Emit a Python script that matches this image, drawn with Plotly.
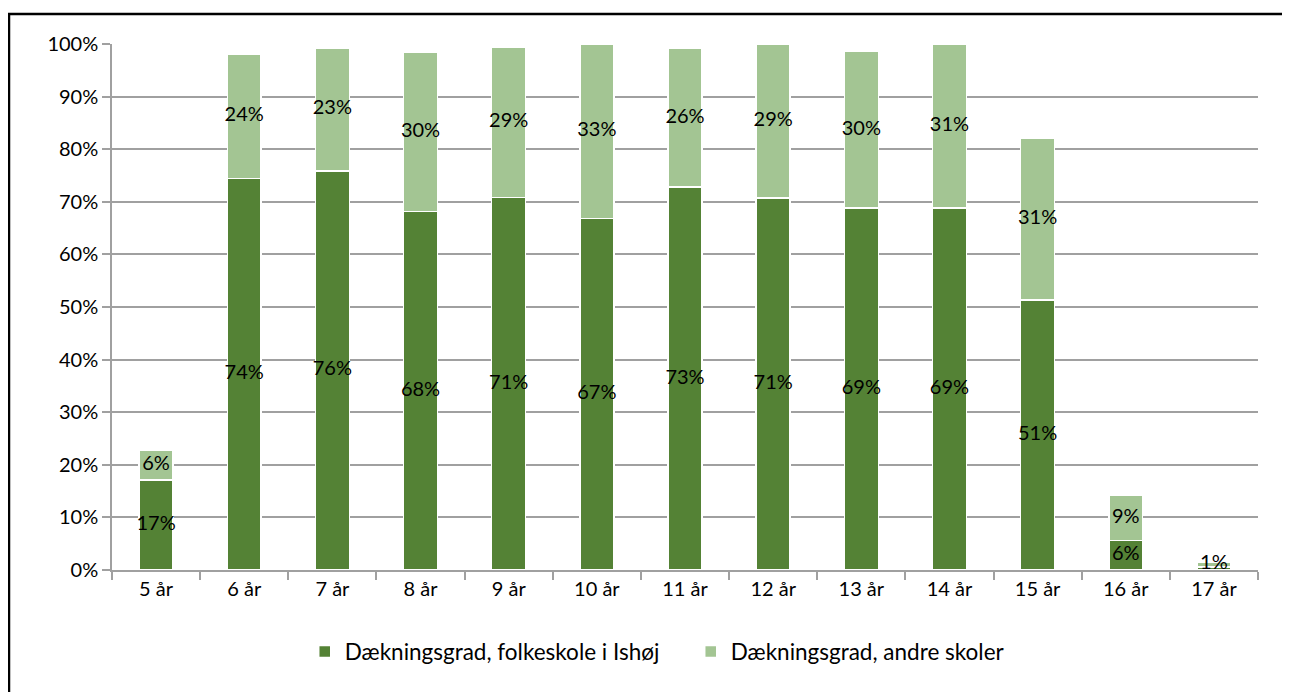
import plotly.graph_objects as go

categories = ["5 år", "6 år", "7 år", "8 år", "9 år", "10 år", "11 år", "12 år", "13 år", "14 år", "15 år", "16 år", "17 år"]
folkeskole = [17.1, 74.4, 75.9, 68.2, 70.8, 66.8, 72.8, 70.7, 68.8, 68.8, 51.3, 5.6, 0.6]
andre = [5.6, 23.7, 23.3, 30.3, 28.6, 33.2, 26.4, 29.2, 29.8, 31.2, 30.8, 8.6, 0.9]
y_ticks = [0, 10, 20, 30, 40, 50, 60, 70, 80, 90, 100]
y_ticklabels = [f"{v}%" for v in y_ticks]
names = ["Dækningsgrad, folkeskole i Ishøj", "Dækningsgrad, andre skoler"]

DARK = "#548235"
LIGHT = "#A3C593"
FONT = "Lato, 'Open Sans', sans-serif"
FS = 20

dark_labels = [f"{round(v)}%" if v >= 1 else "" for v in folkeskole]
light_labels = [f"{round(v)}%" for v in andre]
light_label_y = [f + a / 2 for f, a in zip(folkeskole, andre)]

fig = go.Figure()
fig.add_trace(go.Bar(x=categories, y=folkeskole, name=names[0],
                     marker=dict(color=DARK, line=dict(color="white", width=1.5))))
fig.add_trace(go.Bar(x=categories, y=andre, name=names[1],
                     marker=dict(color=LIGHT, line=dict(color="white", width=1.5))))

fig.add_trace(go.Scatter(x=categories, y=[v / 2 for v in folkeskole], mode="text",
                         text=dark_labels, textfont=dict(size=FS, color="black", family=FONT),
                         showlegend=False, hoverinfo="skip", cliponaxis=False))
fig.add_trace(go.Scatter(x=categories, y=light_label_y, mode="text",
                         text=light_labels, textfont=dict(size=FS, color="black", family=FONT),
                         showlegend=False, hoverinfo="skip", cliponaxis=False))

# The page body has an 8px margin: figure is 16px smaller so the page does not scroll.
OFF = 8
W, H = 1290 - 2 * OFF, 700 - 2 * OFF
L, T = 112 - OFF, 44 - OFF
R = W - (1258 - OFF)
B = H - (570 - OFF)
pw, ph = W - L - R, H - T - B

fig.update_layout(
    width=W, height=H,
    barmode="stack", bargap=0.615,
    margin=dict(l=L, r=R, t=T, b=B),
    paper_bgcolor="white", plot_bgcolor="white",
    font=dict(family=FONT, size=FS, color="black"),
    showlegend=True,
    legend=dict(orientation="h", x=0.505, xanchor="center", y=-0.115, yanchor="top",
                font=dict(size=22.5, family=FONT), traceorder="normal", itemwidth=30,
                entrywidth=341),
    xaxis=dict(type="category", range=[-0.5, len(categories) - 0.5], showline=True,
               linecolor="#A0A0A0", linewidth=1.5,
               ticks="outside", tickson="boundaries", ticklen=8, tickcolor="#A0A0A0", tickwidth=1.5,
               showgrid=False, tickfont=dict(size=FS, family=FONT)),
    yaxis=dict(range=[0, 100], tickvals=y_ticks, ticktext=y_ticklabels, showline=True, linecolor="#A0A0A0",
               linewidth=1.5, ticks="outside", ticklen=8, tickcolor="#A0A0A0", tickwidth=1.5,
               showgrid=True, gridcolor="#A0A0A0", gridwidth=1.5, zeroline=False,
               tickfont=dict(size=FS, family=FONT)),
    shapes=[dict(type="rect", xref="paper", yref="paper",
                 x0=(9 - OFF - L) / pw, x1=(W + 20 - L) / pw,
                 y0=(H - B - (H + 20)) / ph, y1=(H - B - (14 - OFF)) / ph,
                 line=dict(color="black", width=2.5), fillcolor="rgba(0,0,0,0)", layer="below")],
)

fig.write_html("out.html")
